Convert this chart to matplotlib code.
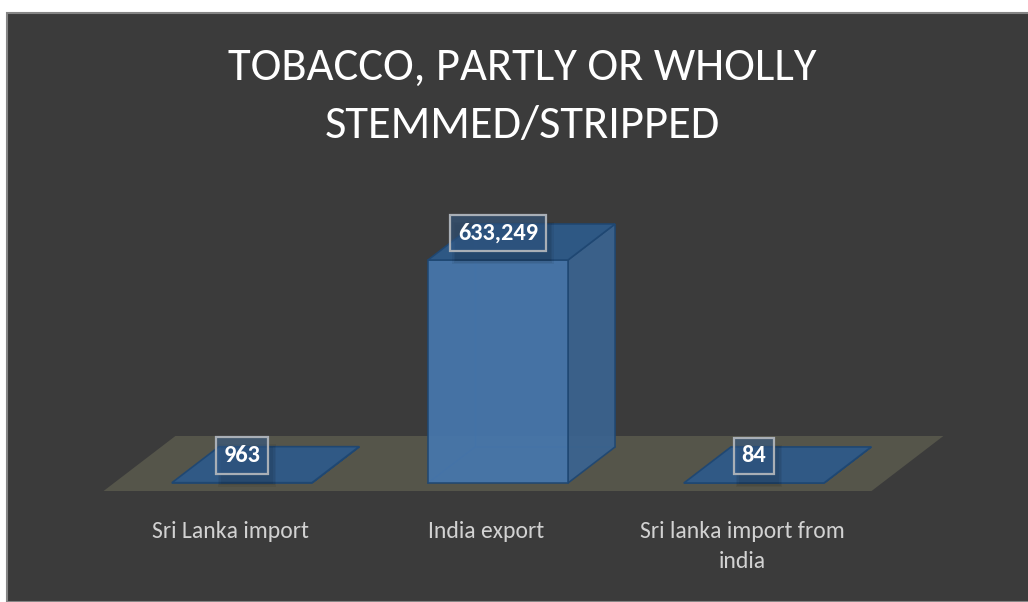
import matplotlib
matplotlib.use("Agg")
import matplotlib.pyplot as plt
from matplotlib import font_manager
from matplotlib.patches import Polygon, Rectangle

# chart data
categories = ["Sri Lanka import", "India export", "Sri lanka import from\nindia"]
values = [963, 633249, 84]
value_labels = ["963", "633,249", "84"]
title_lines = ["TOBACCO, PARTLY OR WHOLLY", "STEMMED/STRIPPED"]

# canvas and layout, in pixels
W, H = 1028, 602
X0_PX = 242        # centre of first category
STEP_PX = 256      # distance between categories
BASE_PX = 483      # baseline (px from top)
TOP_PX = 260       # top of the tallest bar
HALF_W_PX = 70     # half width of a bar front
DEPTH_PX = 36      # vertical depth of a bar
SLANT = 1.306      # horizontal shift per px of depth
FLOOR_FRONT_PX = 8
FLOOR_BACK_PX = 47

BG = "#3b3b3b"
FLOOR = "#55554a"
FRONT = "#4677ae"
SIDE = "#3a6491"
TOP = "#2e5a89"
EDGE = "#1f4772"


def pick_font(candidates):
    names = {f.name for f in font_manager.fontManager.ttflist}
    for name in candidates:
        if name in names:
            return name
    return "DejaVu Sans"


FONT = pick_font(["Carlito", "Liberation Sans Narrow", "Open Sans"])
plt.rcParams["font.family"] = [FONT, "DejaVu Sans"]

fig = plt.figure(figsize=(W / 100, H / 100), dpi=100)
fig.patch.set_facecolor("white")
fig.patches.append(Rectangle((7 / W, 0), 1, 1 - 13 / H, transform=fig.transFigure,
                             facecolor=BG, edgecolor="#858585", linewidth=1.5, zorder=-1))

ax = fig.add_axes([0, 0, 1, 1])
ax.set_facecolor("none")
ax.axis("off")

ppu = (BASE_PX - TOP_PX) / max(values)      # px per value unit
ax.set_xlim(-X0_PX / STEP_PX, (W - X0_PX) / STEP_PX)
ax.set_ylim(-(H - BASE_PX) / ppu, BASE_PX / ppu)


def dx(px):
    return px / STEP_PX


def dy(px):
    return px / ppu


# floor plane
n = len(values)
f_lo, f_hi = -FLOOR_FRONT_PX, FLOOR_BACK_PX
floor = [(-0.5 + dx(f_lo * SLANT), dy(f_lo)), (n - 0.5 + dx(f_lo * SLANT), dy(f_lo)),
         (n - 0.5 + dx(f_hi * SLANT), dy(f_hi)), (-0.5 + dx(f_hi * SLANT), dy(f_hi))]
ax.add_patch(Polygon(floor, closed=True, facecolor=FLOOR, edgecolor="none", zorder=1))

hw = dx(HALF_W_PX)
ddx = dx(DEPTH_PX * SLANT)
ddy = dy(DEPTH_PX)

for i, v in enumerate(values):
    l, r = i - hw, i + hw
    # hidden back edges, seen through the translucent faces
    ax.plot([l, l + ddx, r + ddx], [0, ddy, ddy], color=EDGE, lw=1, alpha=0.5, zorder=2)
    ax.plot([l + ddx, l + ddx], [ddy, v + ddy], color=EDGE, lw=1, alpha=0.5, zorder=2)
    side = [(r, 0), (r + ddx, ddy), (r + ddx, v + ddy), (r, v)]
    top = [(l, v), (r, v), (r + ddx, v + ddy), (l + ddx, v + ddy)]
    front = [(l, 0), (r, 0), (r, v), (l, v)]
    ax.add_patch(Polygon(side, closed=True, facecolor=SIDE, edgecolor=EDGE, lw=1.2,
                         alpha=0.92, zorder=3))
    ax.add_patch(Polygon(front, closed=True, facecolor=FRONT, edgecolor=EDGE, lw=1.2,
                         alpha=0.92, zorder=3))
    ax.add_patch(Polygon(top, closed=True, facecolor=TOP, edgecolor=EDGE, lw=1.2,
                         alpha=0.95, zorder=4))

# value labels
boxes = []
for i, (v, lab) in enumerate(zip(values, value_labels)):
    t = ax.text(i, v + dy(27), lab, ha="center", va="center", color="white",
                fontsize=17.5, fontweight="bold", zorder=7,
                bbox=dict(boxstyle="square,pad=0.32", facecolor=(0.2, 0.36, 0.55, 0.55),
                          edgecolor="#a9afb6", linewidth=1.6))
    boxes.append(t)

# soft shadow under each label box
fig.canvas.draw()
inv = fig.transFigure.inverted()
for t in boxes:
    bb = t.get_bbox_patch().get_window_extent()
    for k, a in enumerate([0.06, 0.06, 0.06]):
        grow = 3 - k * 1.5
        (x0, y0), (x1, y1) = inv.transform([(bb.x0 + 5 - grow, bb.y0 - 10 - grow),
                                            (bb.x1 + 5 + grow, bb.y1 - 10 + grow)])
        ax.add_patch(Rectangle((x0, y0), x1 - x0, y1 - y0, transform=fig.transFigure,
                               facecolor="black", edgecolor="none", alpha=a, zorder=5))

# category labels
for i, cat in enumerate(categories):
    ax.text(i - dx(12), dy(BASE_PX - 521), cat, ha="center", va="top",
            color="#d2d2d2", fontsize=17, linespacing=1.55, zorder=6)

# title
fig.text(522 / W, 1 - 80 / H, title_lines[0], ha="center", va="baseline",
         color="white", fontsize=33.5)
fig.text(522 / W, 1 - 138 / H, title_lines[1], ha="center", va="baseline",
         color="white", fontsize=33.5)

fig.savefig("out.png", dpi=100, facecolor=fig.get_facecolor())
